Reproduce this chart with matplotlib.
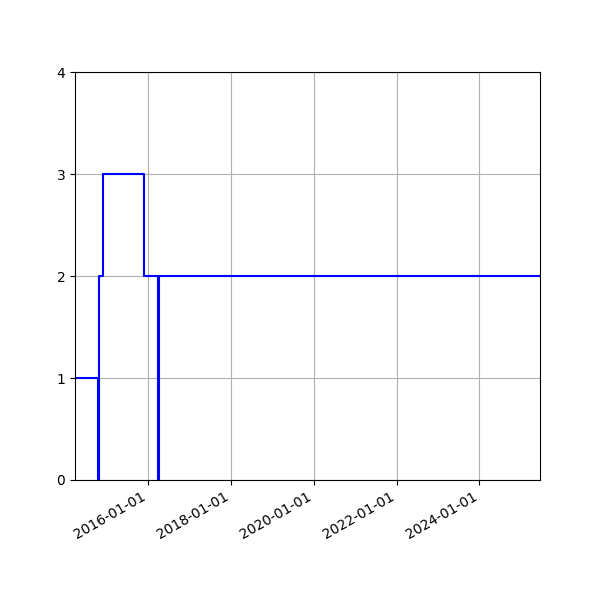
import matplotlib
matplotlib.use("Agg")
import matplotlib.pyplot as plt
import matplotlib.dates as mdates
import numpy as np

dates = np.array(["2014-03-25", "2014-10-15", "2014-10-24", "2014-11-25",
                  "2015-11-24", "2016-03-24", "2016-04-01", "2025-06-20"],
                 dtype="datetime64[D]")
values = [1, 0, 2, 3, 2, 0, 2, 2]

fig, ax = plt.subplots(figsize=(6, 6), dpi=100)
ax.plot(dates, values, drawstyle="steps-post", color="blue", linewidth=1.5)

ax.set_xlim(dates[0], dates[-1])
ax.set_ylim(0, 4)
ax.set_yticks([0, 1, 2, 3, 4])
ax.xaxis.set_major_locator(mdates.YearLocator(2))
ax.xaxis.set_major_formatter(mdates.DateFormatter("%Y-%m-%d"))
ax.grid(True)
fig.autofmt_xdate()

fig.savefig("out.png")
